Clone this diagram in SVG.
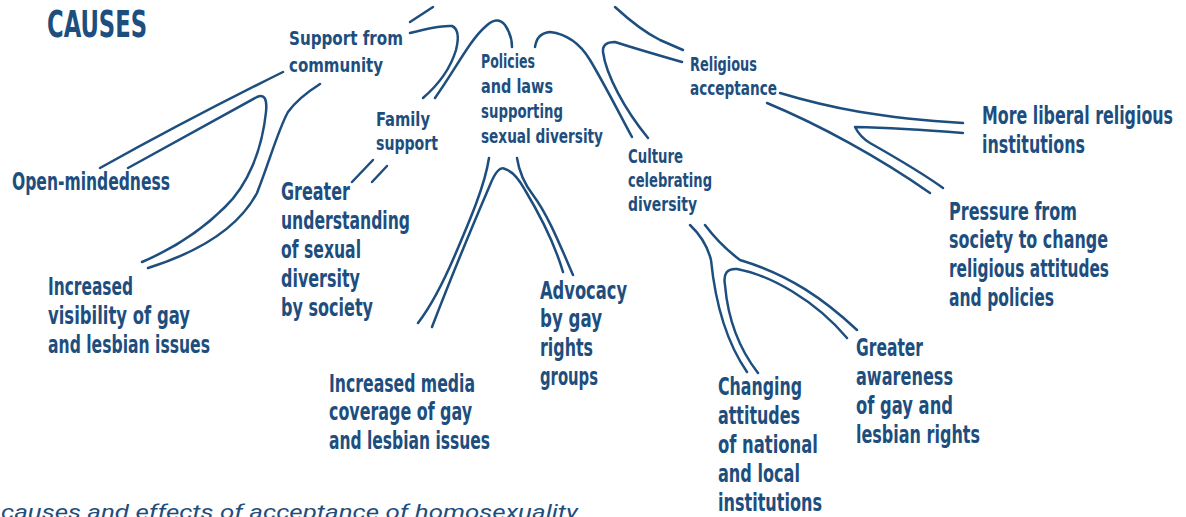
<svg xmlns="http://www.w3.org/2000/svg" width="1186" height="517" viewBox="0 0 1186 517">
<style>
text{font-family:"Liberation Sans Narrow","DejaVu Sans Condensed","Liberation Sans",sans-serif;font-weight:bold;fill:#1d4e7e}
.t{font-size:37px}
.s{font-size:20px}
.l{font-size:24px}
.cap{font-family:"Roboto","Liberation Sans",sans-serif;font-weight:normal;font-style:italic;font-size:21px;fill:#1d4e7e}
#connectors path{fill:none;stroke:#1d4e7e;stroke-width:2.5;stroke-linecap:round;stroke-linejoin:round}
</style>
<rect width="1186" height="517" fill="#fff"/>
<g id="connectors">
<path d="M283,72 Q190,118 100,168"/>
<path d="M128,168 L257,97 Q268,92 266,112 C262,150 248,185 225,207 C200,232 170,250 142,262"/>
<path d="M320,84 Q298,98 288,112 C278,130 270,160 257,193 C240,225 205,250 148,268"/>
<path d="M410,22 L433,7"/>
<path d="M410,33 Q440,25 452,26 Q461,30 456,50 C450,70 438,85 423,98"/>
<path d="M435,98 C455,70 470,40 485,27 Q497,15 505,25 Q512,35 512,47"/>
<path d="M373,160 L352,182"/>
<path d="M387,166 L372,182"/>
<path d="M489,158 C485,185 470,220 455,255 C440,290 428,310 418,323"/>
<path d="M432,327 C450,280 475,220 490,185 Q498,165 505,169 Q515,172 525,190 C540,215 555,245 563,272"/>
<path d="M517,158 Q520,178 533,195 C548,215 560,245 573,275"/>
<path d="M535,47 Q537,33 550,32 Q575,35 590,60 C605,85 620,115 632,137"/>
<path d="M682,62 Q640,50 615,42 Q602,42 603,52 C606,75 625,110 648,138"/>
<path d="M615,7 Q640,30 660,40 L683,50"/>
<path d="M780,93 C830,108 880,118 963,123"/>
<path d="M963,133 Q900,128 855,127 Q860,137 870,143 C900,160 925,175 943,188"/>
<path d="M767,103 C820,125 880,158 930,193"/>
<path d="M690,225 Q706,240 711,260 C715,300 725,340 747,372"/>
<path d="M758,373 C740,350 728,320 725,285 Q722,268 737,269 C770,275 815,300 847,338"/>
<path d="M705,225 Q720,245 740,260 C790,275 825,300 857,330"/>
</g>
<g id="title"><text class="t" x="47" y="37" textLength="100" lengthAdjust="spacingAndGlyphs">CAUSES</text></g>
<g id="node-community"><text class="s" x="289" y="45" textLength="114" lengthAdjust="spacingAndGlyphs">Support from</text><text class="s" x="289" y="72" textLength="94" lengthAdjust="spacingAndGlyphs">community</text></g>
<g id="node-family"><text class="s" x="376" y="126" textLength="54" lengthAdjust="spacingAndGlyphs">Family</text><text class="s" x="376" y="150" textLength="62" lengthAdjust="spacingAndGlyphs">support</text></g>
<g id="node-policies"><text class="s" x="481" y="68" textLength="54" lengthAdjust="spacingAndGlyphs">Policies</text><text class="s" x="481" y="93" textLength="72" lengthAdjust="spacingAndGlyphs">and laws</text><text class="s" x="481" y="118" textLength="82" lengthAdjust="spacingAndGlyphs">supporting</text><text class="s" x="481" y="143" textLength="122" lengthAdjust="spacingAndGlyphs">sexual diversity</text></g>
<g id="node-religious"><text class="s" x="690" y="71" textLength="67" lengthAdjust="spacingAndGlyphs">Religious</text><text class="s" x="690" y="95" textLength="87" lengthAdjust="spacingAndGlyphs">acceptance</text></g>
<g id="node-culture"><text class="s" x="628" y="163" textLength="55" lengthAdjust="spacingAndGlyphs">Culture</text><text class="s" x="628" y="187" textLength="84" lengthAdjust="spacingAndGlyphs">celebrating</text><text class="s" x="628" y="211" textLength="69" lengthAdjust="spacingAndGlyphs">diversity</text></g>
<g id="node-liberal"><text class="l" x="1173" y="124" text-anchor="end" textLength="191" lengthAdjust="spacingAndGlyphs">More liberal religious</text><text class="l" x="982" y="153" textLength="103" lengthAdjust="spacingAndGlyphs">institutions</text></g>
<g id="node-pressure"><text class="l" x="949" y="220" textLength="128" lengthAdjust="spacingAndGlyphs">Pressure from</text><text class="l" x="1108" y="248" text-anchor="end" textLength="159" lengthAdjust="spacingAndGlyphs">society to change</text><text class="l" x="1109" y="277" text-anchor="end" textLength="160" lengthAdjust="spacingAndGlyphs">religious attitudes</text><text class="l" x="949" y="306" textLength="105" lengthAdjust="spacingAndGlyphs">and policies</text></g>
<g id="node-openmind"><text class="l" x="12" y="190" textLength="158" lengthAdjust="spacingAndGlyphs">Open-mindedness</text></g>
<g id="node-understanding"><text class="l" x="281" y="200" textLength="69" lengthAdjust="spacingAndGlyphs">Greater</text><text class="l" x="281" y="229" textLength="129" lengthAdjust="spacingAndGlyphs">understanding</text><text class="l" x="281" y="258" textLength="80" lengthAdjust="spacingAndGlyphs">of sexual</text><text class="l" x="281" y="287" textLength="79" lengthAdjust="spacingAndGlyphs">diversity</text><text class="l" x="281" y="316" textLength="92" lengthAdjust="spacingAndGlyphs">by society</text></g>
<g id="node-visibility"><text class="l" x="48" y="295" textLength="85" lengthAdjust="spacingAndGlyphs">Increased</text><text class="l" x="48" y="324" textLength="142" lengthAdjust="spacingAndGlyphs">visibility of gay</text><text class="l" x="48" y="353" textLength="162" lengthAdjust="spacingAndGlyphs">and lesbian issues</text></g>
<g id="node-media"><text class="l" x="329" y="392" textLength="146" lengthAdjust="spacingAndGlyphs">Increased media</text><text class="l" x="329" y="420" textLength="143" lengthAdjust="spacingAndGlyphs">coverage of gay</text><text class="l" x="329" y="449" textLength="161" lengthAdjust="spacingAndGlyphs">and lesbian issues</text></g>
<g id="node-advocacy"><text class="l" x="540" y="299" textLength="87" lengthAdjust="spacingAndGlyphs">Advocacy</text><text class="l" x="540" y="327" textLength="62" lengthAdjust="spacingAndGlyphs">by gay</text><text class="l" x="540" y="356" textLength="53" lengthAdjust="spacingAndGlyphs">rights</text><text class="l" x="540" y="385" textLength="58" lengthAdjust="spacingAndGlyphs">groups</text></g>
<g id="node-changing"><text class="l" x="718" y="395" textLength="84" lengthAdjust="spacingAndGlyphs">Changing</text><text class="l" x="718" y="424" textLength="82" lengthAdjust="spacingAndGlyphs">attitudes</text><text class="l" x="718" y="453" textLength="100" lengthAdjust="spacingAndGlyphs">of national</text><text class="l" x="718" y="482" textLength="82" lengthAdjust="spacingAndGlyphs">and local</text><text class="l" x="718" y="511" textLength="104" lengthAdjust="spacingAndGlyphs">institutions</text></g>
<g id="node-awareness"><text class="l" x="856" y="356" textLength="67" lengthAdjust="spacingAndGlyphs">Greater</text><text class="l" x="856" y="385" textLength="97" lengthAdjust="spacingAndGlyphs">awareness</text><text class="l" x="856" y="414" textLength="97" lengthAdjust="spacingAndGlyphs">of gay and</text><text class="l" x="856" y="443" textLength="124" lengthAdjust="spacingAndGlyphs">lesbian rights</text></g>
<g id="caption"><text class="cap" x="1" y="519" textLength="577" lengthAdjust="spacingAndGlyphs">causes and effects of acceptance of homosexuality</text></g>
</svg>
